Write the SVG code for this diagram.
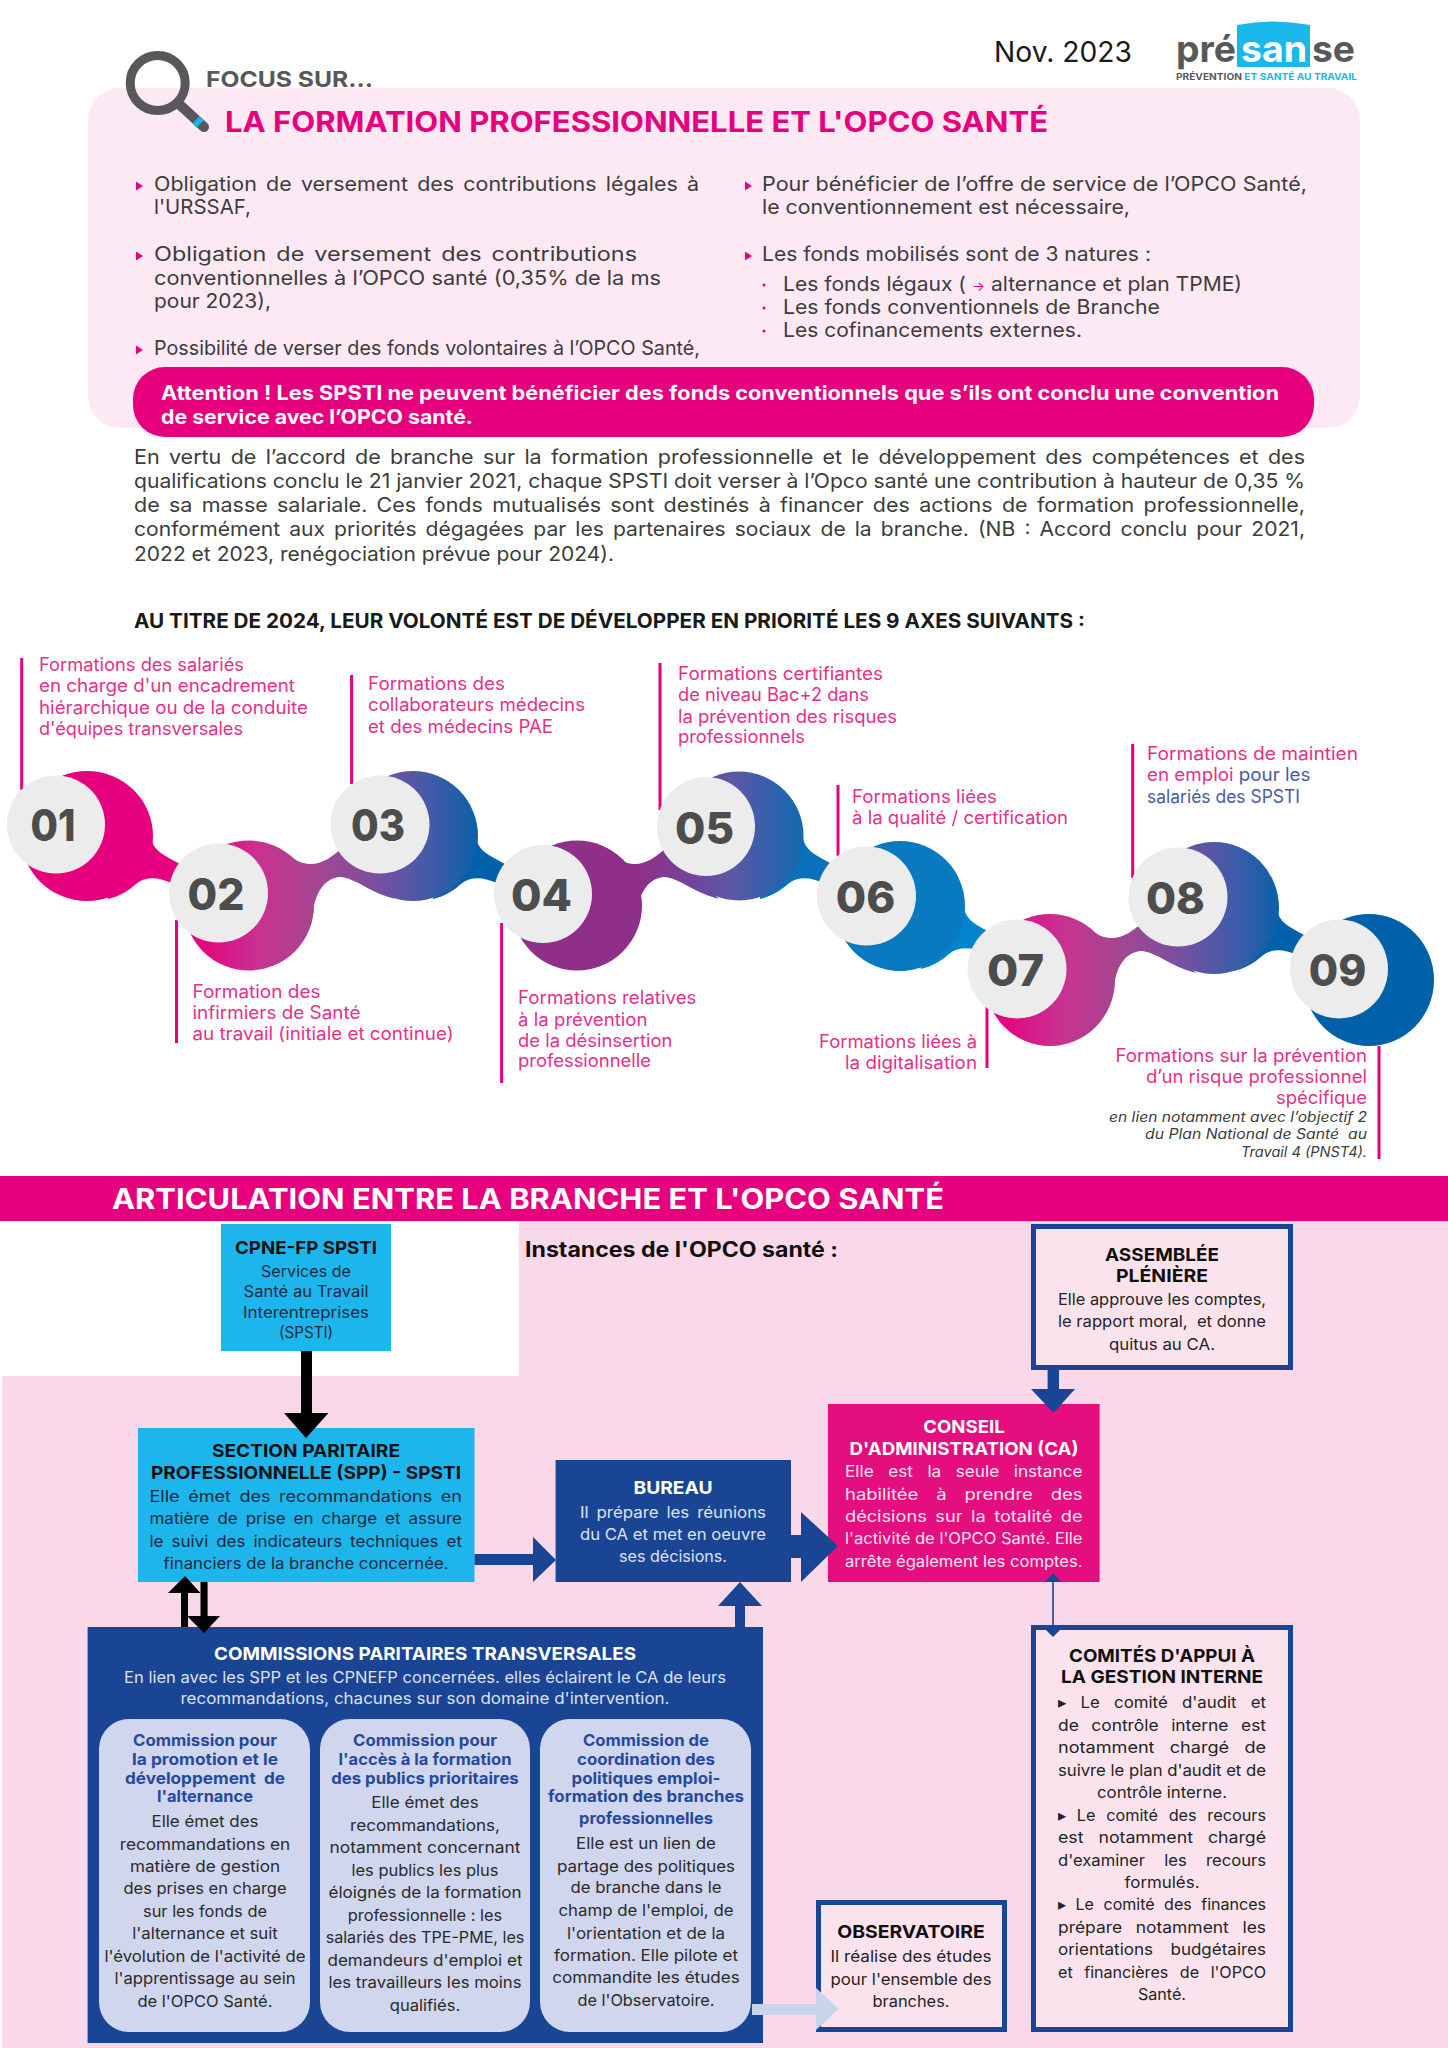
<svg xmlns="http://www.w3.org/2000/svg" xmlns:xlink="http://www.w3.org/1999/xlink" width="1448" height="2048" viewBox="0 0 1448 2048">
<style>
text{font-family:Inter,"Noto Sans","Liberation Sans",sans-serif;white-space:pre}
.m{text-anchor:middle}.e{text-anchor:end}
.f{font-size:20px;fill:#3c3c3b}
.w{word-spacing:3px}
.g{font-size:18px;fill:#e5308a}
.i{font-size:14px;font-style:italic;fill:#3c3c3b}
.n{font-size:44px;font-weight:800;fill:#4d4d4d;text-anchor:middle}
.t{font-size:18px;font-weight:700}
.k{fill:#111}.h{fill:#fff}
.s{font-size:16px}
.d{fill:#1d2a40}.l{fill:#dde1f2}.q{fill:#fbe3ee}.z{fill:#232323}
.u{font-size:16px;font-weight:700;fill:#27499c;text-anchor:middle}
.v{font-size:16px;fill:#2a2a2a;text-anchor:middle}
.blue{fill:#1a4594}.card{fill:#d0d6ee}.grey{fill:#ececec}
.tri{fill:#e6007e}
.box{fill:#fbe3ee;stroke:#1a4594;stroke-width:5}
.stem{stroke:#e6007e;stroke-width:3;fill:none}
</style>
<defs>
<linearGradient id="gA" gradientUnits="userSpaceOnUse" x1="195" y1="0" x2="485" y2="0"><stop offset="0" stop-color="#e6007e"/><stop offset=".22" stop-color="#c93190"/><stop offset=".42" stop-color="#a5468f"/><stop offset=".62" stop-color="#7a4f9f"/><stop offset=".82" stop-color="#3f5ca8"/><stop offset="1" stop-color="#0061ab"/></linearGradient>
<linearGradient id="gB" gradientUnits="userSpaceOnUse" x1="640" y1="0" x2="810" y2="0"><stop offset="0" stop-color="#8f2f8a"/><stop offset=".55" stop-color="#5a58a6"/><stop offset="1" stop-color="#0a6ab0"/></linearGradient>
<linearGradient id="gB2" gradientUnits="userSpaceOnUse" x1="316" y1="0" x2="486" y2="0"><stop offset="0" stop-color="#8f2f8a"/><stop offset=".55" stop-color="#5a58a6"/><stop offset="1" stop-color="#0a6ab0"/></linearGradient>
<linearGradient id="gC" gradientUnits="userSpaceOnUse" x1="996" y1="0" x2="1286" y2="0"><stop offset="0" stop-color="#e6007e"/><stop offset=".22" stop-color="#c93190"/><stop offset=".42" stop-color="#a5468f"/><stop offset=".62" stop-color="#7a4f9f"/><stop offset=".82" stop-color="#3f5ca8"/><stop offset="1" stop-color="#0061ab"/></linearGradient>
<path id="neck1" d="M151,838C153,850 163,855 180,864L172,883C160,878 147,875 136,884C128,891 120,896 108,899L110,840Z"/>
<path id="neck2" d="M288,855C298,862 304,864 311,864C322,864 332,857 342,848L395,899C368,892 356,878 340,877C326,878 316,890 313,912L280,900Z"/>
<polygon id="b" points="0,-4.5 7,0 0,4.5"/>
</defs>

<rect width="1448" height="2048" fill="#fff"/>

<g id="header">
<rect x="88" y="88" width="1272" height="340" rx="32" fill="#fce9f4"/>
<circle cx="157.7" cy="83" r="27.5" fill="none" stroke="#58585a" stroke-width="9"/>
<path d="M180,105L204,127" stroke="#58585a" stroke-width="10" stroke-linecap="round" fill="none"/>
<path d="M196,120L200,124" stroke="#1ab7ea" stroke-width="10" fill="none"/>
<text x="206" y="87" font-size="22" font-weight="700" fill="#58585a" textLength="167" lengthAdjust="spacingAndGlyphs">FOCUS SUR...</text>
<text x="225" y="132" font-size="28" font-weight="700" fill="#e6007e" textLength="823" lengthAdjust="spacingAndGlyphs">LA FORMATION PROFESSIONNELLE ET L'OPCO SANTÉ</text>
<text x="994" y="62" font-size="28" fill="#1a1a1a" textLength="138" lengthAdjust="spacingAndGlyphs">Nov. 2023</text>
</g>

<g id="logo">
<path d="M1237,67V25Q1273,18 1310,25V67Z" fill="#1ab7ea"/>
<text x="1176" y="62" font-size="37" font-weight="700" fill="#58585a" textLength="60" lengthAdjust="spacingAndGlyphs">pré</text>
<text x="1241" y="62" font-size="37" font-weight="700" fill="#fff" textLength="66" lengthAdjust="spacingAndGlyphs">san</text>
<text x="1312" y="62" font-size="37" font-weight="700" fill="#58585a" textLength="43" lengthAdjust="spacingAndGlyphs">se</text>
<text x="1176" y="80" font-size="9" font-weight="700" fill="#1ab7ea" textLength="181" lengthAdjust="spacingAndGlyphs"><tspan fill="#58585a">PRÉVENTION</tspan> ET SANTÉ AU TRAVAIL</text>
</g>

<g id="intro-list">
<use href="#b" x="136" y="186" class="tri"/><use href="#b" x="136" y="256" class="tri"/><use href="#b" x="136" y="350" class="tri"/>
<use href="#b" x="745" y="186" class="tri"/><use href="#b" x="745" y="256" class="tri"/>
<circle cx="764" cy="285" r="1.5" fill="#e6007e"/><circle cx="764" cy="308" r="1.5" fill="#e6007e"/><circle cx="764" cy="331" r="1.5" fill="#e6007e"/>
<text class="f w" x="154" y="191" textLength="545" lengthAdjust="spacingAndGlyphs">Obligation de versement des contributions légales à</text>
<text class="f" x="154" y="214" textLength="97" lengthAdjust="spacingAndGlyphs">l'URSSAF,</text>
<text class="f w" x="154" y="261" textLength="483" lengthAdjust="spacingAndGlyphs">Obligation de versement des contributions</text>
<text class="f" x="154" y="285" textLength="507" lengthAdjust="spacingAndGlyphs">conventionnelles à l’OPCO santé (0,35% de la ms</text>
<text class="f" x="154" y="308" textLength="117" lengthAdjust="spacingAndGlyphs">pour 2023),</text>
<text class="f" x="154" y="355" textLength="546" lengthAdjust="spacingAndGlyphs">Possibilité de verser des fonds volontaires à l’OPCO Santé,</text>
<text class="f" x="762" y="191" textLength="545" lengthAdjust="spacingAndGlyphs">Pour bénéficier de l’offre de service de l’OPCO Santé,</text>
<text class="f" x="762" y="214" textLength="368" lengthAdjust="spacingAndGlyphs">le conventionnement est nécessaire,</text>
<text class="f" x="762" y="261" textLength="389" lengthAdjust="spacingAndGlyphs">Les fonds mobilisés sont de 3 natures :</text>
<text class="f" x="783" y="291" textLength="459" lengthAdjust="spacingAndGlyphs">Les fonds légaux ( <tspan fill="#e6007e" font-size="13">→</tspan> alternance et plan TPME)</text>
<text class="f" x="783" y="314" textLength="377" lengthAdjust="spacingAndGlyphs">Les fonds conventionnels de Branche</text>
<text class="f" x="783" y="337" textLength="299" lengthAdjust="spacingAndGlyphs">Les cofinancements externes.</text>
</g>

<g id="attention">
<rect x="133" y="367" width="1181" height="70" rx="32" fill="#e6007e"/>
<text x="161" y="400" font-size="20" font-weight="700" fill="#fff" textLength="1118" lengthAdjust="spacingAndGlyphs">Attention ! Les SPSTI ne peuvent bénéficier des fonds conventionnels que s’ils ont conclu une convention</text>
<text x="161" y="424" font-size="20" font-weight="700" fill="#fff" textLength="312" lengthAdjust="spacingAndGlyphs">de service avec l’OPCO santé.</text>
</g>

<g id="paragraph">
<text class="f w" x="134" y="464" textLength="1171" lengthAdjust="spacingAndGlyphs">En vertu de l’accord de branche sur la formation professionnelle et le développement des compétences et des</text>
<text class="f" x="134" y="488" textLength="1171" lengthAdjust="spacingAndGlyphs">qualifications conclu le 21 janvier 2021, chaque SPSTI doit verser à l’Opco santé une contribution à hauteur de 0,35 %</text>
<text class="f w" x="134" y="512" textLength="1171" lengthAdjust="spacingAndGlyphs">de sa masse salariale. Ces fonds mutualisés sont destinés à financer des actions de formation professionnelle,</text>
<text class="f w" x="134" y="536" textLength="1171" lengthAdjust="spacingAndGlyphs">conformément aux priorités dégagées par les partenaires sociaux de la branche. (NB : Accord conclu pour 2021,</text>
<text class="f" x="134" y="561" textLength="480" lengthAdjust="spacingAndGlyphs">2022 et 2023, renégociation prévue pour 2024).</text>
<text x="134" y="628" font-size="20" font-weight="700" fill="#1a1a1a" textLength="951" lengthAdjust="spacingAndGlyphs">AU TITRE DE 2024, LEUR VOLONTÉ EST DE DÉVELOPPER EN PRIORITÉ LES 9 AXES SUIVANTS :</text>
</g>

<g id="connectors-timeline">
<path class="stem" d="M21.7,658V790M351.6,675V784M660,663V810M176.5,920V1043M501.6,923V1083M838,785V856M1132.7,744V878M987,1007V1068M1379,1046V1159"/>
<use href="#neck1" fill="#e6007e"/>
<use href="#neck2" fill="url(#gA)"/>
<use href="#neck1" x="325" fill="#0061ab"/>
<use href="#neck2" x="324" fill="url(#gB2)"/>
<use href="#neck1" x="652" fill="#0a72ba"/>
<use href="#neck1" x="813" y="70" fill="#0085cc"/>
<use href="#neck2" x="801" y="74" fill="url(#gA)"/>
<use href="#neck1" x="1126" y="72" fill="#0061ab"/>
</g>

<g id="n01"><ellipse cx="87" cy="836" rx="66" ry="65" fill="#e6007e"/><ellipse class="grey" cx="56" cy="824.5" rx="49" ry="49"/><text class="n" x="53" y="841" textLength="45" lengthAdjust="spacingAndGlyphs">01</text>
<text class="g" x="39" y="671" textLength="205" lengthAdjust="spacingAndGlyphs">Formations des salariés</text><text class="g" x="39" y="692" textLength="256" lengthAdjust="spacingAndGlyphs">en charge d'un encadrement</text><text class="g" x="39" y="714" textLength="269" lengthAdjust="spacingAndGlyphs">hiérarchique ou de la conduite</text><text class="g" x="39" y="735" textLength="204" lengthAdjust="spacingAndGlyphs">d'équipes transversales</text></g>
<g id="n02"><ellipse cx="249" cy="905.5" rx="65" ry="65" fill="url(#gA)"/><ellipse class="grey" cx="218.5" cy="893" rx="49.5" ry="49.5"/><text class="n" x="216" y="910" textLength="57" lengthAdjust="spacingAndGlyphs">02</text>
<text class="g" x="192.5" y="998" textLength="128" lengthAdjust="spacingAndGlyphs">Formation des</text><text class="g" x="192.5" y="1019" textLength="168" lengthAdjust="spacingAndGlyphs">infirmiers de Santé</text><text class="g" x="192.5" y="1040" textLength="261" lengthAdjust="spacingAndGlyphs">au travail (initiale et continue)</text></g>
<g id="n03"><ellipse cx="413" cy="836" rx="65" ry="65" fill="url(#gA)"/><ellipse class="grey" cx="380" cy="824.5" rx="49.5" ry="49"/><text class="n" x="378" y="841" textLength="54" lengthAdjust="spacingAndGlyphs">03</text>
<text class="g" x="368" y="690" textLength="137" lengthAdjust="spacingAndGlyphs">Formations des</text><text class="g" x="368" y="711" textLength="217" lengthAdjust="spacingAndGlyphs">collaborateurs médecins</text><text class="g" x="368" y="733" textLength="185" lengthAdjust="spacingAndGlyphs">et des médecins PAE</text></g>
<g id="n04"><ellipse cx="577" cy="905.5" rx="65" ry="65" fill="#8f2f8a"/><ellipse class="grey" cx="543" cy="894" rx="49" ry="49"/><text class="n" x="541.5" y="911" textLength="61" lengthAdjust="spacingAndGlyphs">04</text>
<text class="g" x="518" y="1004" textLength="178.5" lengthAdjust="spacingAndGlyphs">Formations relatives</text><text class="g" x="518" y="1026" textLength="129.5" lengthAdjust="spacingAndGlyphs">à la prévention</text><text class="g" x="518" y="1047" textLength="154.5" lengthAdjust="spacingAndGlyphs">de la désinsertion</text><text class="g" x="518" y="1067" textLength="133" lengthAdjust="spacingAndGlyphs">professionnelle</text></g>
<g id="n05"><ellipse cx="739" cy="836" rx="64.5" ry="64.5" fill="url(#gB)"/><ellipse class="grey" cx="706" cy="826.5" rx="49" ry="49.5"/><text class="n" x="704.5" y="844" textLength="59" lengthAdjust="spacingAndGlyphs">05</text>
<text class="g" x="678" y="680" textLength="205" lengthAdjust="spacingAndGlyphs">Formations certifiantes</text><text class="g" x="678" y="701" textLength="191" lengthAdjust="spacingAndGlyphs">de niveau Bac+2 dans</text><text class="g" x="678" y="723" textLength="219" lengthAdjust="spacingAndGlyphs">la prévention des risques</text><text class="g" x="678" y="743" textLength="127" lengthAdjust="spacingAndGlyphs">professionnels</text></g>
<g id="n06"><ellipse cx="900" cy="906" rx="65" ry="65" fill="#0a7ac0"/><ellipse class="grey" cx="866.5" cy="896" rx="49.5" ry="49.5"/><text class="n" x="865.5" y="913" textLength="59.5" lengthAdjust="spacingAndGlyphs">06</text>
<text class="g" x="852" y="803" textLength="145" lengthAdjust="spacingAndGlyphs">Formations liées</text><text class="g" x="852" y="824" textLength="216" lengthAdjust="spacingAndGlyphs">à la qualité / certification</text></g>
<g id="n07"><ellipse cx="1050" cy="980" rx="65" ry="66" fill="url(#gC)"/><ellipse class="grey" cx="1017" cy="969" rx="49.5" ry="49.5"/><text class="n" x="1015.5" y="986" textLength="57" lengthAdjust="spacingAndGlyphs">07</text>
<text class="g e" x="977" y="1048" textLength="158" lengthAdjust="spacingAndGlyphs">Formations liées à</text><text class="g e" x="977" y="1069" textLength="132" lengthAdjust="spacingAndGlyphs">la digitalisation</text></g>
<g id="n08"><ellipse cx="1214" cy="908" rx="65" ry="66" fill="url(#gC)"/><ellipse class="grey" cx="1178" cy="897" rx="49.5" ry="49.5"/><text class="n" x="1175.5" y="914" textLength="59" lengthAdjust="spacingAndGlyphs">08</text>
<text class="g" x="1147" y="760" textLength="211" lengthAdjust="spacingAndGlyphs">Formations de maintien</text><text class="g" x="1147" y="781" textLength="163.5" lengthAdjust="spacingAndGlyphs">en emploi <tspan fill="#4a5a9f">pour les</tspan></text><text class="g" x="1147" y="803" textLength="153" lengthAdjust="spacingAndGlyphs" style="fill:#4a5a9f">salariés des SPSTI</text></g>
<g id="n09"><ellipse cx="1369" cy="980" rx="65" ry="66" fill="#0061ab"/><ellipse class="grey" cx="1339" cy="969" rx="49" ry="49.5"/><text class="n" x="1337.5" y="986" textLength="57.5" lengthAdjust="spacingAndGlyphs">09</text>
<text class="g e" x="1367" y="1062" textLength="251.5" lengthAdjust="spacingAndGlyphs">Formations sur la prévention</text><text class="g e" x="1367" y="1083" textLength="221" lengthAdjust="spacingAndGlyphs">d’un risque professionnel</text><text class="g e" x="1367" y="1104" textLength="91" lengthAdjust="spacingAndGlyphs">spécifique</text>
<text class="i e" x="1367" y="1122" textLength="258" lengthAdjust="spacingAndGlyphs">en lien notamment avec l’objectif 2</text><text class="i e" x="1367" y="1139" textLength="222" lengthAdjust="spacingAndGlyphs">du Plan National de Santé  au</text><text class="i e" x="1367" y="1157" textLength="126" lengthAdjust="spacingAndGlyphs">Travail 4 (PNST4).</text></g>

<g id="section2-bg">
<rect x="0" y="1221" width="1448" height="827" fill="#f9d8e9"/>
<rect x="0" y="1221" width="519" height="155" fill="#fff"/>
<rect x="0" y="1376" width="2" height="672" fill="#fff"/>
<rect x="0" y="1176" width="1448" height="45" fill="#e6007e"/>
<text x="112" y="1209" font-size="28" font-weight="700" fill="#fff" textLength="832" lengthAdjust="spacingAndGlyphs">ARTICULATION ENTRE LA BRANCHE ET L'OPCO SANTÉ</text>
<text x="525" y="1257" font-size="21" font-weight="700" fill="#111" textLength="313" lengthAdjust="spacingAndGlyphs">Instances de l'OPCO santé :</text>
</g>

<g id="cpne">
<rect x="221" y="1224" width="170" height="127" fill="#1cb6ed"/>
<text class="t k m" x="306" y="1254" textLength="142" lengthAdjust="spacingAndGlyphs">CPNE-FP SPSTI</text>
<text class="s d m" x="306" y="1277" textLength="90" lengthAdjust="spacingAndGlyphs">Services de</text>
<text class="s d m" x="306" y="1297" textLength="125" lengthAdjust="spacingAndGlyphs">Santé au Travail</text>
<text class="s d m" x="306" y="1318" textLength="126" lengthAdjust="spacingAndGlyphs">Interentreprises</text>
<text class="s d m" x="306" y="1338" textLength="54" lengthAdjust="spacingAndGlyphs">(SPSTI)</text>
</g>

<g id="spp">
<rect x="138" y="1428" width="336.5" height="154" fill="#1cb6ed"/>
<text class="t k m" x="306" y="1457" textLength="188" lengthAdjust="spacingAndGlyphs">SECTION PARITAIRE</text>
<text class="t k m" x="306" y="1479" textLength="310" lengthAdjust="spacingAndGlyphs">PROFESSIONNELLE (SPP) - SPSTI</text>
<text class="s d w" x="149.5" y="1502" textLength="312.5" lengthAdjust="spacingAndGlyphs">Elle émet des recommandations en</text>
<text class="s d w" x="149.5" y="1524" textLength="312.5" lengthAdjust="spacingAndGlyphs">matière de prise en charge et assure</text>
<text class="s d w" x="149.5" y="1547" textLength="312.5" lengthAdjust="spacingAndGlyphs">le suivi des indicateurs techniques et</text>
<text class="s d m" x="306" y="1569" textLength="285" lengthAdjust="spacingAndGlyphs">financiers de la branche concernée.</text>
</g>

<g id="bureau">
<rect x="555.6" y="1460" width="235.4" height="122" class="blue"/>
<text class="t h m" x="673" y="1494" textLength="79" lengthAdjust="spacingAndGlyphs">BUREAU</text>
<text class="s l w" x="580" y="1518" textLength="186" lengthAdjust="spacingAndGlyphs">Il prépare les réunions</text>
<text class="s l" x="580" y="1540" textLength="186" lengthAdjust="spacingAndGlyphs">du CA et met en oeuvre</text>
<text class="s l m" x="673" y="1562" textLength="108" lengthAdjust="spacingAndGlyphs">ses décisions.</text>
</g>

<g id="ca">
<rect x="828" y="1404" width="271.6" height="178" fill="#e50e7e"/>
<text class="t h m" x="964" y="1433" textLength="81.5" lengthAdjust="spacingAndGlyphs">CONSEIL</text>
<text class="t h m" x="964" y="1455" textLength="229" lengthAdjust="spacingAndGlyphs">D'ADMINISTRATION (CA)</text>
<text class="s q" x="845" y="1477" textLength="237.5" lengthAdjust="spacingAndGlyphs" style="word-spacing:9px">Elle est la seule instance</text>
<text class="s q" x="845" y="1500" textLength="237.5" lengthAdjust="spacingAndGlyphs" style="word-spacing:11px">habilitée à prendre des</text>
<text class="s q w" x="845" y="1522" textLength="237.5" lengthAdjust="spacingAndGlyphs">décisions sur la totalité de</text>
<text class="s q" x="845" y="1544" textLength="237.5" lengthAdjust="spacingAndGlyphs">l'activité de l'OPCO Santé. Elle</text>
<text class="s q" x="845" y="1567" textLength="237.5" lengthAdjust="spacingAndGlyphs">arrête également les comptes.</text>
</g>

<g id="assemblee">
<rect class="box" x="1033.5" y="1226.5" width="257" height="141"/>
<text class="t k m" x="1162" y="1261" textLength="114" lengthAdjust="spacingAndGlyphs">ASSEMBLÉE</text>
<text class="t k m" x="1162" y="1282" textLength="92" lengthAdjust="spacingAndGlyphs">PLÉNIÈRE</text>
<text class="s z" x="1058" y="1305" textLength="208" lengthAdjust="spacingAndGlyphs">Elle approuve les comptes,</text>
<text class="s z" x="1058" y="1327" textLength="208" lengthAdjust="spacingAndGlyphs">le rapport moral,  et donne</text>
<text class="s z m" x="1162" y="1350" textLength="106" lengthAdjust="spacingAndGlyphs">quitus au CA.</text>
</g>

<g id="comites">
<rect class="box" x="1033.5" y="1627.5" width="257" height="402"/>
<text class="t k m" x="1162" y="1662" textLength="186" lengthAdjust="spacingAndGlyphs">COMITÉS D'APPUI À</text>
<text class="t k m" x="1162" y="1683" textLength="202" lengthAdjust="spacingAndGlyphs">LA GESTION INTERNE</text>
<text class="s z" x="1058" y="1708" textLength="208" lengthAdjust="spacingAndGlyphs" style="word-spacing:9px">▸ Le comité d'audit et</text>
<text class="s z" x="1058" y="1731" textLength="208" lengthAdjust="spacingAndGlyphs" style="word-spacing:7px">de contrôle interne est</text>
<text class="s z" x="1058" y="1753" textLength="208" lengthAdjust="spacingAndGlyphs" style="word-spacing:9px">notamment chargé de</text>
<text class="s z" x="1058" y="1776" textLength="208" lengthAdjust="spacingAndGlyphs">suivre le plan d'audit et de</text>
<text class="s z m" x="1162" y="1798" textLength="130" lengthAdjust="spacingAndGlyphs">contrôle interne.</text>
<text class="s z" x="1058" y="1821" textLength="208" lengthAdjust="spacingAndGlyphs" style="word-spacing:6px">▸ Le comité des recours</text>
<text class="s z" x="1058" y="1843" textLength="208" lengthAdjust="spacingAndGlyphs" style="word-spacing:9px">est notamment chargé</text>
<text class="s z" x="1058" y="1866" textLength="208" lengthAdjust="spacingAndGlyphs" style="word-spacing:14px">d'examiner les recours</text>
<text class="s z m" x="1162" y="1888" textLength="75" lengthAdjust="spacingAndGlyphs">formulés.</text>
<text class="s z" x="1058" y="1910" textLength="208" lengthAdjust="spacingAndGlyphs" style="word-spacing:5px">▸ Le comité des finances</text>
<text class="s z" x="1058" y="1933" textLength="208" lengthAdjust="spacingAndGlyphs" style="word-spacing:8px">prépare notamment les</text>
<text class="s z" x="1058" y="1955" textLength="208" lengthAdjust="spacingAndGlyphs" style="word-spacing:12px">orientations budgétaires</text>
<text class="s z" x="1058" y="1978" textLength="208" lengthAdjust="spacingAndGlyphs" style="word-spacing:7px">et financières de l'OPCO</text>
<text class="s z m" x="1162" y="2000" textLength="48" lengthAdjust="spacingAndGlyphs">Santé.</text>
</g>

<g id="observatoire">
<rect class="box" x="818.5" y="1902.5" width="186" height="127"/>
<text class="t k m" x="911" y="1938" textLength="147.5" lengthAdjust="spacingAndGlyphs">OBSERVATOIRE</text>
<text class="s z m" x="911" y="1962" textLength="161" lengthAdjust="spacingAndGlyphs">Il réalise des études</text>
<text class="s z m" x="911" y="1985" textLength="161" lengthAdjust="spacingAndGlyphs">pour l'ensemble des</text>
<text class="s z m" x="911" y="2007" textLength="77" lengthAdjust="spacingAndGlyphs">branches.</text>
</g>

<g id="commissions">
<rect x="87.6" y="1627" width="675.4" height="416" class="blue"/>
<text class="t h m" x="425" y="1660" textLength="422" lengthAdjust="spacingAndGlyphs">COMMISSIONS PARITAIRES TRANSVERSALES</text>
<text class="s l m" x="425" y="1683" textLength="602" lengthAdjust="spacingAndGlyphs">En lien avec les SPP et les CPNEFP concernées. elles éclairent le CA de leurs</text>
<text class="s l m" x="425" y="1704" textLength="489" lengthAdjust="spacingAndGlyphs">recommandations, chacunes sur son domaine d'intervention.</text>
</g>
<g id="commission-1">
<rect class="card" x="99" y="1719" width="211" height="313" rx="30"/>
<text class="u" x="205" y="1746" textLength="144" lengthAdjust="spacingAndGlyphs">Commission pour</text>
<text class="u" x="205" y="1765" textLength="146" lengthAdjust="spacingAndGlyphs">la promotion et le</text>
<text class="u" x="205" y="1784" textLength="160" lengthAdjust="spacingAndGlyphs">développement  de</text>
<text class="u" x="205" y="1802" textLength="96" lengthAdjust="spacingAndGlyphs">l'alternance</text>
<text class="v" x="205" y="1827" textLength="107" lengthAdjust="spacingAndGlyphs">Elle émet des</text>
<text class="v" x="205" y="1850" textLength="170.5" lengthAdjust="spacingAndGlyphs">recommandations en</text>
<text class="v" x="205" y="1872" textLength="150" lengthAdjust="spacingAndGlyphs">matière de gestion</text>
<text class="v" x="205" y="1894" textLength="163" lengthAdjust="spacingAndGlyphs">des prises en charge</text>
<text class="v" x="205" y="1917" textLength="124" lengthAdjust="spacingAndGlyphs">sur les fonds de</text>
<text class="v" x="205" y="1939" textLength="145.5" lengthAdjust="spacingAndGlyphs">l'alternance et suit</text>
<text class="v" x="205" y="1962" textLength="201" lengthAdjust="spacingAndGlyphs">l'évolution de l'activité de</text>
<text class="v" x="205" y="1984" textLength="181" lengthAdjust="spacingAndGlyphs">l'apprentissage au sein</text>
<text class="v" x="205" y="2007" textLength="135" lengthAdjust="spacingAndGlyphs">de l'OPCO Santé.</text>
</g>
<g id="commission-2">
<rect class="card" x="320" y="1719" width="210" height="313" rx="30"/>
<text class="u" x="425" y="1746" textLength="144" lengthAdjust="spacingAndGlyphs">Commission pour</text>
<text class="u" x="425" y="1765" textLength="173" lengthAdjust="spacingAndGlyphs">l'accès à la formation</text>
<text class="u" x="425" y="1784" textLength="187.5" lengthAdjust="spacingAndGlyphs">des publics prioritaires</text>
<text class="v" x="425" y="1808" textLength="107.5" lengthAdjust="spacingAndGlyphs">Elle émet des</text>
<text class="v" x="425" y="1831" textLength="150" lengthAdjust="spacingAndGlyphs">recommandations,</text>
<text class="v" x="425" y="1853" textLength="191" lengthAdjust="spacingAndGlyphs">notamment concernant</text>
<text class="v" x="425" y="1876" textLength="147" lengthAdjust="spacingAndGlyphs">les publics les plus</text>
<text class="v" x="425" y="1898" textLength="193" lengthAdjust="spacingAndGlyphs">éloignés de la formation</text>
<text class="v" x="425" y="1921" textLength="154.5" lengthAdjust="spacingAndGlyphs">professionnelle : les</text>
<text class="v" x="425" y="1943" textLength="198.7" lengthAdjust="spacingAndGlyphs">salariés des TPE-PME, les</text>
<text class="v" x="425" y="1966" textLength="195" lengthAdjust="spacingAndGlyphs">demandeurs d'emploi et</text>
<text class="v" x="425" y="1988" textLength="193" lengthAdjust="spacingAndGlyphs">les travailleurs les moins</text>
<text class="v" x="425" y="2011" textLength="70.5" lengthAdjust="spacingAndGlyphs">qualifiés.</text>
</g>
<g id="commission-3">
<rect class="card" x="540" y="1719" width="211" height="313" rx="30"/>
<text class="u" x="646" y="1746" textLength="126" lengthAdjust="spacingAndGlyphs">Commission de</text>
<text class="u" x="646" y="1765" textLength="138" lengthAdjust="spacingAndGlyphs">coordination des</text>
<text class="u" x="646" y="1784" textLength="149" lengthAdjust="spacingAndGlyphs">politiques emploi-</text>
<text class="u" x="646" y="1802" textLength="196" lengthAdjust="spacingAndGlyphs">formation des branches</text>
<text class="u" x="646" y="1824" textLength="134" lengthAdjust="spacingAndGlyphs">professionnelles</text>
<text class="v" x="646" y="1849" textLength="140" lengthAdjust="spacingAndGlyphs">Elle est un lien de</text>
<text class="v" x="646" y="1872" textLength="178" lengthAdjust="spacingAndGlyphs">partage des politiques</text>
<text class="v" x="646" y="1893" textLength="151" lengthAdjust="spacingAndGlyphs">de branche dans le</text>
<text class="v" x="646" y="1916" textLength="175" lengthAdjust="spacingAndGlyphs">champ de l'emploi, de</text>
<text class="v" x="646" y="1939" textLength="158" lengthAdjust="spacingAndGlyphs">l'orientation et de la</text>
<text class="v" x="646" y="1961" textLength="184" lengthAdjust="spacingAndGlyphs">formation. Elle pilote et</text>
<text class="v" x="646" y="1983" textLength="187.5" lengthAdjust="spacingAndGlyphs">commandite les études</text>
<text class="v" x="646" y="2006" textLength="137" lengthAdjust="spacingAndGlyphs">de l'Observatoire.</text>
</g>

<g id="connectors">
<polygon fill="#000" points="301,1351 312,1351 312,1413 328.5,1413 306,1438 284,1413 301,1413"/>
<polygon fill="#000" points="181,1627 188,1627 188,1593 200.5,1593 185,1576 168,1593 181,1593"/>
<polygon fill="#000" points="200.5,1582 207.6,1582 207.6,1616 220,1616 204,1633 187,1616 200.5,1616"/>
<polygon class="blue" points="474.5,1554 533,1554 533,1537 556,1560 533,1582 533,1565 474.5,1565"/>
<polygon class="blue" points="791,1535 801,1535 801,1512 838,1546 801,1582 801,1558 791,1558"/>
<polygon class="blue" points="735,1627 735,1606 718,1606 740,1582 762,1606 745,1606 745,1627"/>
<polygon class="blue" points="1047.6,1370 1059,1370 1059,1389 1075,1389 1053.5,1413 1031,1389 1047.6,1389"/>
<path d="M1053,1576V1632" stroke="#1a4594" stroke-width="1.6" fill="none"/>
<polygon class="blue" points="1045,1582 1053,1573 1061,1582"/>
<polygon class="blue" points="1045,1629 1061,1629 1053,1637"/>
<polygon fill="#c8d4ec" points="752,2004 816,2004 816,1988 839,2009 816,2030 816,2015 752,2015"/>
</g>
</svg>
